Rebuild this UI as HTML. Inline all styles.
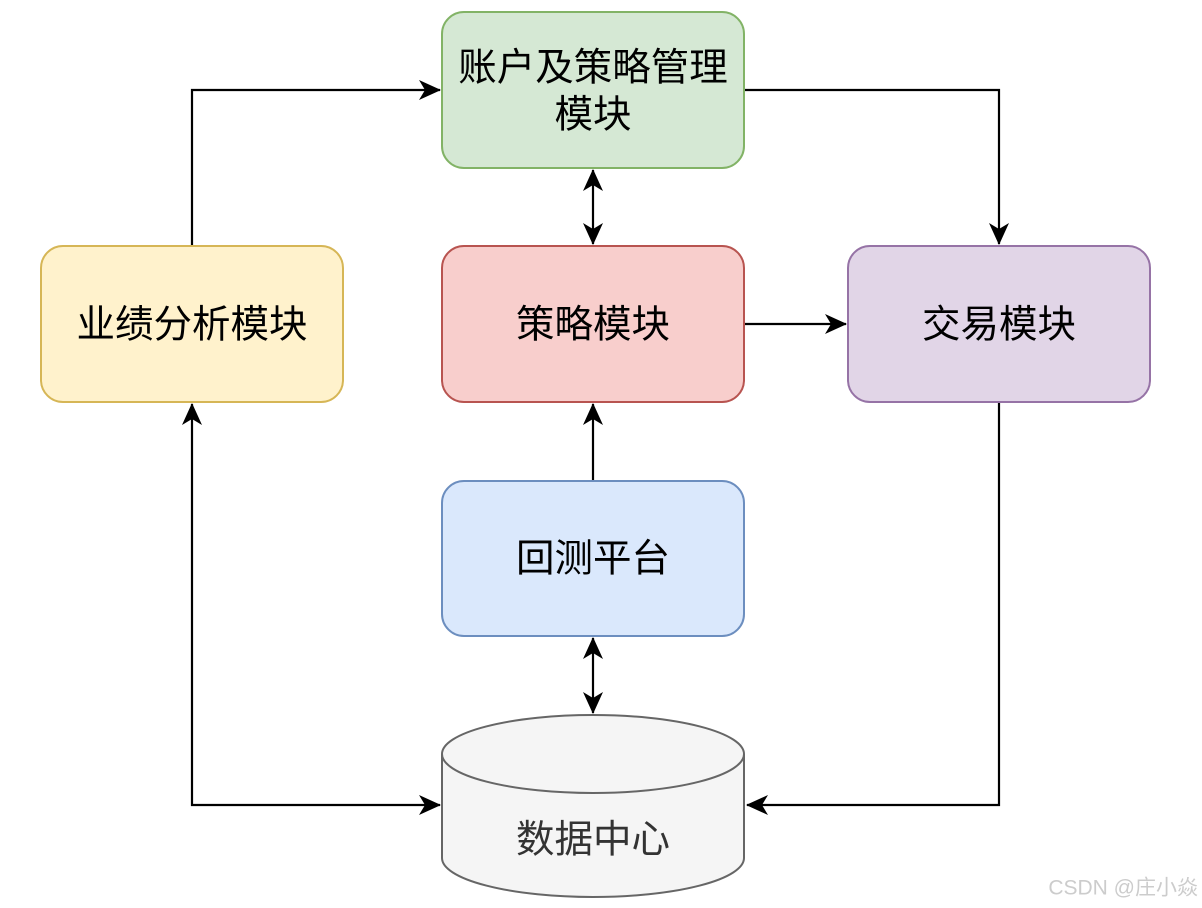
<!DOCTYPE html>
<html><head><meta charset="utf-8"><style>
html,body{margin:0;padding:0;background:#fff;}
svg{display:block;}
text{font-family:"Liberation Sans","Noto Sans CJK SC",sans-serif;font-size:38.5px;fill:#000;text-anchor:middle;dominant-baseline:central;}
</style></head><body>
<svg width="1202" height="908" viewBox="0 0 1202 908" xmlns="http://www.w3.org/2000/svg">
<defs>
<marker id="a" viewBox="0 0 22 22" refX="21" refY="11" markerWidth="22" markerHeight="22" markerUnits="userSpaceOnUse" orient="auto-start-reverse">
<path d="M0,1 L22,11 L0,21 L6,11 Z" fill="#000"/>
</marker>
</defs>
<g stroke="#000" stroke-width="2.2" fill="none">
<polyline points="192,246 192,90 440,90" marker-end="url(#a)"/>
<polyline points="745,90 999,90 999,244" marker-end="url(#a)"/>
<line x1="593" y1="170" x2="593" y2="244" marker-start="url(#a)" marker-end="url(#a)"/>
<line x1="745" y1="324" x2="846" y2="324" marker-end="url(#a)"/>
<line x1="593" y1="481" x2="593" y2="404" marker-end="url(#a)"/>
<line x1="593" y1="638" x2="593" y2="713" marker-start="url(#a)" marker-end="url(#a)"/>
<polyline points="192,404 192,805 440,805" marker-start="url(#a)" marker-end="url(#a)"/>
<polyline points="999,402 999,805 747,805" marker-end="url(#a)"/>
</g>
<rect x="442" y="12" width="302" height="156" rx="22" fill="#d5e8d4" stroke="#82b366" stroke-width="2"/>
<rect x="41" y="246" width="302" height="156" rx="22" fill="#fff2cc" stroke="#d6b656" stroke-width="2"/>
<rect x="442" y="246" width="302" height="156" rx="22" fill="#f8cecc" stroke="#b85450" stroke-width="2"/>
<rect x="848" y="246" width="302" height="156" rx="22" fill="#e1d5e7" stroke="#9673a6" stroke-width="2"/>
<rect x="442" y="481" width="302" height="155" rx="22" fill="#dae8fc" stroke="#6c8ebf" stroke-width="2"/>
<path d="M442,754 A151,39 0 0 1 744,754 L744,858 A151,39 0 0 1 442,858 Z" fill="#f5f5f5" stroke="#666" stroke-width="2"/>
<path d="M442,754 A151,39 0 0 0 744,754" fill="none" stroke="#666" stroke-width="2"/>
<text x="593" y="68">账户及策略管理</text>
<text x="593" y="115">模块</text>
<text x="192" y="325">业绩分析模块</text>
<text x="593" y="325">策略模块</text>
<text x="999" y="325">交易模块</text>
<text x="593" y="559">回测平台</text>
<text x="593" y="840" style="fill:#333">数据中心</text>
<text x="1198" y="888" style="font-size:21px;fill:#ccc;text-anchor:end">CSDN @庄小焱</text>
</svg>
</body></html>
